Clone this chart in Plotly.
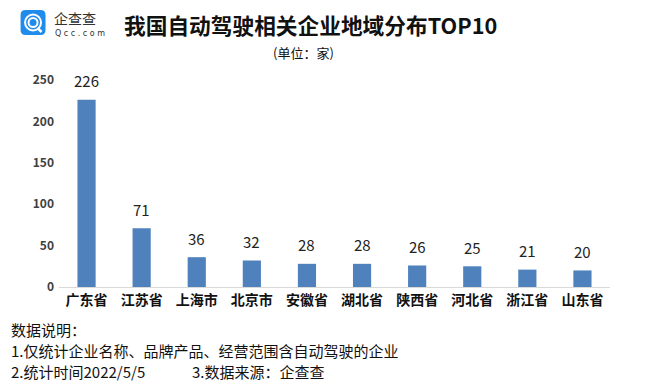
import plotly.graph_objects as go

categories = ["广东省", "江苏省", "上海市", "北京市", "安徽省", "湖北省", "陕西省", "河北省", "浙江省", "山东省"]
values = [226, 71, 36, 32, 28, 28, 26, 25, 21, 20]
y_ticks = [0, 50, 100, 150, 200, 250]

title_text = "我国自动驾驶相关企业地域分布TOP10"
unit_text = "(单位：家)"
notes = ["数据说明：", "1.仅统计企业名称、品牌产品、经营范围含自动驾驶的企业", "2.统计时间2022/5/5", "3.数据来源：企查查"]

FONT = "Noto Sans CJK SC"
OFF = 8  # browser default body margin
W, H = 651 - OFF, 384 - OFF
# plot area in reference (window) pixel coords
PL, PR, PT, PB = 58.5, 610.5, 80, 287
ML, MR, MT, MB = PL - OFF, W - (PR - OFF), PT - OFF, H - (PB - OFF)
PW, PH = PR - PL, PB - PT

fig = go.Figure()
fig.add_trace(go.Bar(
    x=categories, y=values,
    marker=dict(color="#4F81BD", line=dict(width=0)),
    width=0.33,
    hoverinfo="x+y",
))

for c, v in zip(categories, values):
    fig.add_annotation(x=c, y=v, xref="x", yref="y", text=str(v), showarrow=False,
                       yanchor="middle", yshift=19,
                       font=dict(family=FONT, size=15, color="#222222"))

fig.update_layout(
    width=W, height=H,
    margin=dict(l=ML, r=MR, t=MT, b=MB, autoexpand=False),
    paper_bgcolor="white", plot_bgcolor="white",
    showlegend=False,
    font=dict(family=FONT),
    xaxis=dict(
        showline=True, linecolor="#D9D9D9", linewidth=1,
        ticks="", showgrid=False, automargin=False,
        tickfont=dict(family=FONT, size=14, color="#111111", weight="bold"),
        fixedrange=True,
    ),
    yaxis=dict(
        range=[0, 250], tickvals=y_ticks, showgrid=False, zeroline=False,
        showline=False, ticks="", automargin=False,
        tickfont=dict(family=FONT, size=12, color="#404040", weight="bold"),
        ticklabelstandoff=4,
        fixedrange=True,
    ),
)

def px(x):
    return (x - PL) / PW

def py(y):
    return 1 - (y - PT) / PH

# Logo: blue rounded square
x0, x1, y0, y1 = 20, 45, 10, 35
r = 5
path = (f"M {px(x0+r)},{py(y0)} L {px(x1-r)},{py(y0)} Q {px(x1)},{py(y0)} {px(x1)},{py(y0+r)} "
        f"L {px(x1)},{py(y1-r)} Q {px(x1)},{py(y1)} {px(x1-r)},{py(y1)} "
        f"L {px(x0+r)},{py(y1)} Q {px(x0)},{py(y1)} {px(x0)},{py(y1-r)} "
        f"L {px(x0)},{py(y0+r)} Q {px(x0)},{py(y0)} {px(x0+r)},{py(y0)} Z")
fig.add_shape(type="path", path=path, xref="paper", yref="paper",
              fillcolor="#1F8CEB", line=dict(width=0))
cx, cy = 32.5, 22.5
for rad in (8, 4.5):
    fig.add_shape(type="circle", xref="paper", yref="paper",
                  x0=px(cx-rad), x1=px(cx+rad), y0=py(cy+rad), y1=py(cy-rad),
                  line=dict(color="white", width=2), fillcolor="rgba(0,0,0,0)")
fig.add_shape(type="line", xref="paper", yref="paper",
              x0=px(37), y0=py(28), x1=px(41), y1=py(32),
              line=dict(color="white", width=2.5))

fig.add_annotation(x=px(51), y=py(18), xref="paper", yref="paper", text="企查查",
                   showarrow=False, xanchor="left", yanchor="middle",
                   font=dict(family=FONT, size=14, color="#333333"))
fig.add_annotation(x=px(52), y=py(34), xref="paper", yref="paper", text="Q c c . c o m",
                   showarrow=False, xanchor="left", yanchor="middle",
                   font=dict(family="DejaVu Sans", size=8, color="#333333"))

fig.add_annotation(x=px(122), y=py(25), xref="paper", yref="paper", text=title_text,
                   showarrow=False, xanchor="left", yanchor="middle",
                   font=dict(family=FONT, size=21.7, color="#111111", weight="bold"))
fig.add_annotation(x=px(303), y=py(52), xref="paper", yref="paper", text=unit_text,
                   showarrow=False, xanchor="center", yanchor="middle",
                   font=dict(family=FONT, size=13, color="#111111"))

note_pos = [(8, 329), (8, 350), (8, 371), (190, 371)]
for t, (nx, ny) in zip(notes, note_pos):
    fig.add_annotation(x=px(nx), y=py(ny), xref="paper", yref="paper", text=t,
                       showarrow=False, xanchor="left", yanchor="middle",
                       font=dict(family=FONT, size=15, color="#111111"))

fig.write_html("out.html")
